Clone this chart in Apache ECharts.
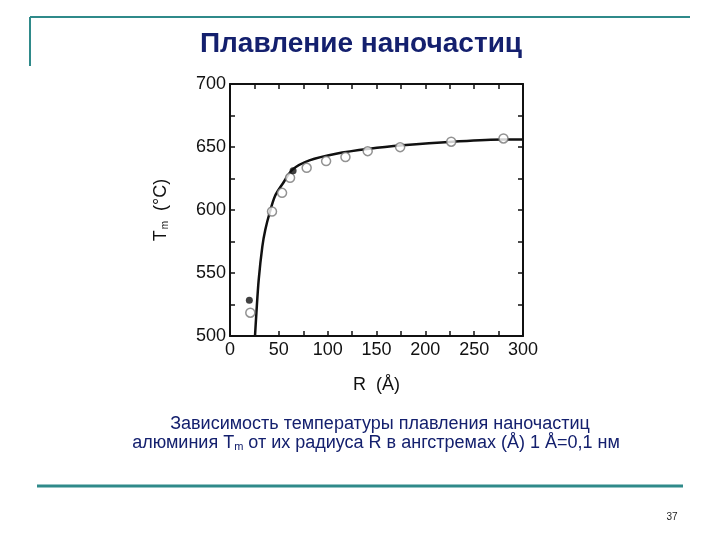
<!DOCTYPE html>
<html>
<head>
<meta charset="utf-8">
<script src="https://cdn.jsdelivr.net/npm/echarts@6/dist/echarts.min.js"></script>
<style>
  html, body { margin: 0; padding: 0; background: #fff; }
  #chart { width: 720px; height: 540px; }
</style>
</head>
<body>
<div id="chart"></div>
<script>
// fitted curve: [R (Å), Tm (°C)]
const curveR = [25.6, 27, 29.4, 33.1, 36.2, 40.6, 46, 53.9, 64.2, 81.3, 108.6, 142.8, 176.9, 228, 279.4, 300];
const curveT = [500, 518, 544.7, 571, 584.5, 597.8, 611, 620.8, 632.2, 639.4, 644.7, 648.6, 651.3, 654.2, 656, 656];

// open circles
const openR = [20.8, 43, 53.3, 61.5, 78.5, 98.4, 118.2, 141, 174.2, 226.5, 280];
const openT = [518.5, 598.8, 613.6, 625.6, 633.5, 638.8, 642, 646.7, 649.9, 654.2, 656.8];

// filled points
const fillR = [19.8, 64.6];
const fillT = [528.3, 631.1];

const xTicks = [0, 50, 100, 150, 200, 250, 300];
const yTicks = [500, 550, 600, 650, 700];

const pairs = (xs, ys) => xs.map((x, i) => [x, ys[i]]);

const chart = echarts.init(document.getElementById('chart'));

const teal = '#2f8a8a';
const navy = '#14206e';
const axisFont = 'Liberation Sans, Arial, sans-serif';

// ticks every 25, labels only on the 50s
const labelEvery50 = (v) => (v % 50 === 0 ? String(v) : '');

const axisCommon = {
  interval: 25,
  axisLine: { onZero: false, lineStyle: { color: '#111', width: 2 } },
  axisTick: { inside: true, length: 5, lineStyle: { color: '#111', width: 1.5 } },
  splitLine: { show: false }
};

chart.setOption({
  animation: false,
  backgroundColor: '#fff',
  grid: { left: 230, right: 197, top: 84, bottom: 204, containLabel: false },
  xAxis: [{
    type: 'value',
    min: xTicks[0],
    max: xTicks[xTicks.length - 1],
    ...axisCommon,
    axisLabel: { color: '#111', fontSize: 18, fontFamily: axisFont, margin: 5, formatter: labelEvery50 },
    name: 'R  (Å)',
    nameLocation: 'middle',
    nameGap: 40,
    nameTextStyle: { color: '#111', fontSize: 18, fontFamily: axisFont }
  }, {
    type: 'value',
    position: 'top',
    min: xTicks[0],
    max: xTicks[xTicks.length - 1],
    ...axisCommon,
    axisLabel: { show: false }
  }],
  yAxis: [{
    type: 'value',
    min: yTicks[0],
    max: yTicks[yTicks.length - 1],
    ...axisCommon,
    axisLabel: { color: '#111', fontSize: 18, fontFamily: axisFont, margin: 4, formatter: labelEvery50 },
    name: 'T{sub|m}  (°C)',
    nameLocation: 'middle',
    nameGap: 60,
    nameTextStyle: {
      color: '#111', fontSize: 18, fontFamily: axisFont,
      rich: { sub: { fontSize: 10, verticalAlign: 'bottom', padding: [8, 0, 0, 1], fontFamily: axisFont, color: '#111' } }
    }
  }, {
    type: 'value',
    position: 'right',
    min: yTicks[0],
    max: yTicks[yTicks.length - 1],
    ...axisCommon,
    axisLabel: { show: false }
  }],
  series: [{
    type: 'line',
    data: pairs(curveR, curveT),
    smooth: 0.3,
    showSymbol: false,
    lineStyle: { color: '#111', width: 2.5 },
    z: 3
  }, {
    type: 'scatter',
    data: pairs(openR, openT),
    symbol: 'circle',
    symbolSize: 9,
    itemStyle: { color: '#fff', borderColor: '#777', borderWidth: 1.5 },
    z: 4
  }, {
    type: 'scatter',
    data: pairs(fillR, fillT),
    symbol: 'circle',
    symbolSize: 7,
    itemStyle: { color: '#111' },
    z: 5
  }],
  graphic: [
    { type: 'line', shape: { x1: 30, y1: 17, x2: 690, y2: 17 }, style: { stroke: teal, lineWidth: 2 } },
    { type: 'line', shape: { x1: 30, y1: 17, x2: 30, y2: 66 }, style: { stroke: teal, lineWidth: 2 } },
    { type: 'line', shape: { x1: 37, y1: 486, x2: 683, y2: 486 }, style: { stroke: teal, lineWidth: 3 } },
    {
      type: 'text', x: 361, y: 44,
      style: {
        text: 'Плавление наночастиц', align: 'center', verticalAlign: 'middle',
        fill: navy, font: 'bold 28px "Liberation Sans", Arial, sans-serif'
      }
    },
    {
      type: 'text', x: 380, y: 424,
      style: {
        text: 'Зависимость температуры плавления наночастиц', align: 'center', verticalAlign: 'middle',
        fill: navy, font: '18px "Liberation Sans", Arial, sans-serif'
      }
    },
    {
      type: 'text', x: 376, y: 443,
      style: {
        text: 'алюминия T{sub|m} от их радиуса R в ангстремах (Å) 1 Å=0,1 нм', align: 'center', verticalAlign: 'middle',
        fill: navy, font: '18px "Liberation Sans", Arial, sans-serif',
        rich: { sub: { fontSize: 11, verticalAlign: 'bottom', padding: [8, 0, 0, 0], fill: navy, fontFamily: 'Liberation Sans, Arial, sans-serif' } }
      }
    },
    {
      type: 'text', x: 672, y: 517,
      style: { text: '37', align: 'center', verticalAlign: 'middle', fill: '#222', font: '10px "Liberation Sans", Arial, sans-serif' }
    }
  ]
});
</script>
</body>
</html>
